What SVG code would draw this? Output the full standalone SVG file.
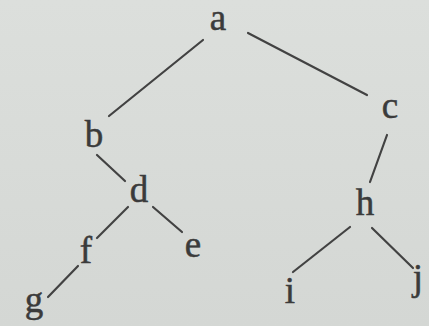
<svg xmlns="http://www.w3.org/2000/svg" width="429" height="326" viewBox="0 0 429 326">
<style>
.lbl{font-family:"Liberation Serif","Times New Roman",serif;font-size:37px;fill:#3b3b3b;stroke:#3b3b3b;stroke-width:0.5;text-anchor:middle}
.edge{stroke:#424242;stroke-width:2.2;stroke-linecap:round;fill:none}
</style>
<defs>
<linearGradient id="bg" x1="0" y1="0" x2="0" y2="1">
<stop offset="0" stop-color="#dcdfdc"/>
<stop offset="1" stop-color="#d4d7d4"/>
</linearGradient>
</defs>
<rect width="429" height="326" fill="url(#bg)"/>
<g id="connectors">
<line class="edge" x1="203" y1="40" x2="109" y2="116"/>
<line class="edge" x1="248" y1="33" x2="367" y2="95"/>
<line class="edge" x1="387" y1="135" x2="370" y2="182"/>
<line class="edge" x1="97" y1="155" x2="125" y2="181"/>
<line class="edge" x1="128" y1="207" x2="97" y2="238"/>
<line class="edge" x1="153" y1="207" x2="182" y2="232"/>
<line class="edge" x1="78" y1="266" x2="48" y2="297"/>
<line class="edge" x1="350" y1="227" x2="293" y2="272"/>
<line class="edge" x1="372" y1="228" x2="413" y2="268"/>
</g>
<g id="node-a"><text class="lbl" x="218" y="30">a</text></g>
<g id="node-b"><text class="lbl" x="94" y="147">b</text></g>
<g id="node-c"><text class="lbl" x="390" y="118">c</text></g>
<g id="node-d"><text class="lbl" x="139" y="202">d</text></g>
<g id="node-h"><text class="lbl" x="365" y="215">h</text></g>
<g id="node-f"><text class="lbl" x="86" y="263">f</text></g>
<g id="node-e"><text class="lbl" x="193" y="257">e</text></g>
<g id="node-g"><text class="lbl" x="34" y="312">g</text></g>
<g id="node-i"><text class="lbl" x="290" y="303">i</text></g>
<g id="node-j"><text class="lbl" x="418" y="290">j</text></g>
</svg>
